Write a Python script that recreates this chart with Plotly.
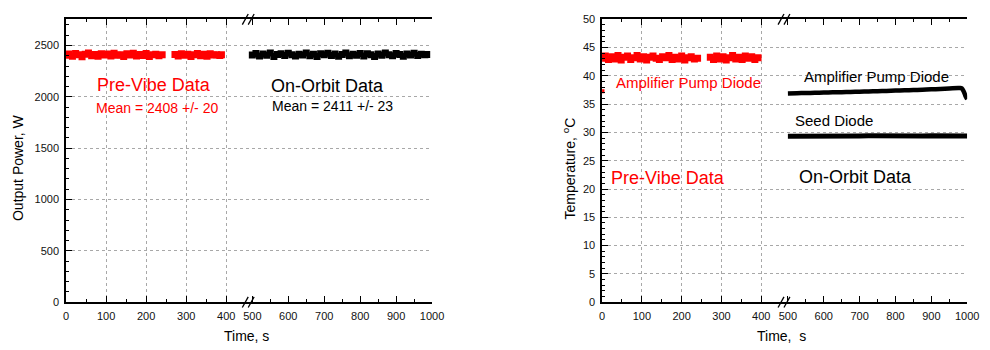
import plotly.graph_objects as go

# ---------------- data ----------------
# Left panel: output power, W
PV_T1 = [0, 8, 16, 24, 32, 40, 48, 56, 64, 72, 80, 88, 96, 104, 112, 120, 128, 136, 144, 152,
         160, 168, 176, 184, 192, 200, 208, 216, 224, 232, 240]
PV_P1 = [2405, 2418, 2396, 2422, 2410, 2391, 2415, 2426, 2400, 2412, 2395, 2420, 2408, 2417, 2399,
         2424, 2404, 2411, 2393, 2419, 2407, 2425, 2398, 2413, 2402, 2421, 2394, 2409, 2416, 2401, 2410]
PV_T2 = [272, 280, 288, 296, 304, 312, 320, 328, 336, 344, 352, 360, 368, 376, 384, 388]
PV_P2 = [2412, 2398, 2420, 2405, 2416, 2393, 2410, 2423, 2401, 2414, 2396, 2419, 2407, 2411, 2403, 2409]

OO_T = [500, 510, 520, 530, 540, 550, 560, 570, 580, 590, 600, 610, 620, 630, 640, 650, 660, 670,
        680, 690, 700, 710, 720, 730, 740, 750, 760, 770, 780, 790, 800, 810, 820, 830, 840, 850,
        860, 870, 880, 890, 900, 910, 920, 930, 940, 950, 960, 970, 980, 985]
OO_P = [2408, 2421, 2399, 2417, 2405, 2426, 2394, 2413, 2419, 2402,
        2424, 2410, 2397, 2416, 2407, 2428, 2400, 2414, 2392, 2420,
        2409, 2425, 2403, 2418, 2396, 2412, 2427, 2401, 2415, 2406,
        2422, 2398, 2419, 2411, 2393, 2417, 2404, 2426, 2409, 2400,
        2421, 2413, 2395, 2418, 2407, 2424, 2402, 2416, 2410, 2412]

# Right panel: temperature, degC
TP_T1 = PV_T1
TP_V1 = [43.1, 43.5, 42.9, 43.4, 43.0, 43.6, 42.8, 43.3, 43.5, 42.9,
         43.2, 43.6, 43.0, 43.4, 42.8, 43.3, 43.5, 43.1, 42.9, 43.4,
         43.2, 43.6, 42.9, 43.3, 43.0, 43.5, 42.8, 43.2, 43.4, 43.0, 43.1]
TP_T2 = [272, 280, 288, 296, 304, 312, 320, 328, 336, 344, 352, 360, 368, 376, 384, 392]
TP_V2 = [43.3, 42.9, 43.5, 43.0, 43.4, 42.8, 43.2, 43.6, 43.0, 43.3, 42.9, 43.5, 43.1, 43.4, 42.9, 43.2]
TP_START_T = [1]
TP_START_V = [37.3]

AMP_T = [500, 525, 550, 575, 600, 625, 650, 675, 700, 725, 750, 775, 800, 825, 850, 875, 900,
         925, 950, 975, 980, 985, 990, 995, 1000]
AMP_V = [36.90, 36.94, 36.97, 37.01, 37.05, 37.09, 37.13, 37.17, 37.21, 37.26, 37.30, 37.35, 37.40,
         37.45, 37.50, 37.55, 37.62, 37.70, 37.78, 37.86, 37.88, 37.80, 37.30, 36.50, 35.90]
SEED_T = [500, 525, 550, 575, 600, 625, 650, 675, 700, 725, 750, 775, 800, 825, 850, 875, 900,
          925, 950, 975, 1000]
SEED_V = [29.35, 29.38, 29.36, 29.40, 29.37, 29.39, 29.36, 29.41, 29.38, 29.40, 29.37, 29.39,
          29.42, 29.38, 29.40, 29.37, 29.41, 29.39, 29.38, 29.40, 29.39]

GRID_B = [600, 700, 800, 900]

# ---------------- layout helpers ----------------
W, H = 990, 350
FONT = "Liberation Sans, Arial, sans-serif"
RED = "#ff0000"


def fx(p):
    return p / W


def fy(p):
    return 1 - p / H


YDOM = [fy(306.7), fy(13.8)]
GRIDC = "#a8a8a8"

base_axis = dict(
    showline=True, linecolor="black", linewidth=1.5, ticks="inside", ticklen=6,
    tickwidth=1, tickcolor="black", zeroline=False,
    tickfont=dict(family=FONT, size=11, color="#111"),
    gridcolor=GRIDC, griddash="dot", gridwidth=1,
)


def xax(domain, rng, anchor, grid=True):
    d = dict(base_axis)
    d.update(domain=domain, range=rng, anchor=anchor, tick0=0, dtick=100,
             mirror="ticks", showgrid=grid, ticklabelstandoff=3,
             minor=dict(dtick=50, tick0=0, ticks="inside", ticklen=3, tickcolor="black",
                        showgrid=False))
    return d


def yax(rng, anchor, major, minor, side="left", overlay=None, labels=True, grid=True):
    d = dict(base_axis)
    d.update(range=rng, anchor=anchor, tick0=0, dtick=major, side=side,
             showgrid=grid, showticklabels=labels, ticklabelstandoff=3,
             minor=dict(dtick=minor, tick0=0, ticks="inside", ticklen=3, tickcolor="black",
                        showgrid=False))
    if overlay:
        d["overlaying"] = overlay
    else:
        d["domain"] = YDOM
    return d


def grid_overlay(over, rng, anchor):
    return dict(overlaying=over, range=rng, anchor=anchor, tickvals=GRID_B,
                showgrid=True, gridcolor=GRIDC, griddash="dot", gridwidth=1,
                ticks="", showticklabels=False, showline=False, zeroline=False)


fig = go.Figure()

def band(x, y, color, xa, ya):
    return go.Scatter(x=x, y=y, xaxis=xa, yaxis=ya, mode="lines+markers",
                      line=dict(color=color, width=3),
                      marker=dict(color=color, size=7, symbol="square"),
                      hoverinfo="skip")

# left panel
fig.add_trace(band(PV_T1, PV_P1, RED, "x", "y"))
fig.add_trace(band(PV_T2, PV_P2, RED, "x", "y"))
fig.add_trace(band(OO_T, OO_P, "black", "x2", "y"))

# right panel
fig.add_trace(band(TP_T1, TP_V1, RED, "x3", "y2"))
fig.add_trace(band(TP_T2, TP_V2, RED, "x3", "y2"))
fig.add_trace(go.Scatter(x=TP_START_T, y=TP_START_V, xaxis="x3", yaxis="y2", mode="markers",
                         marker=dict(color=RED, size=4, symbol="square"), hoverinfo="skip"))
fig.add_trace(go.Scatter(x=AMP_T, y=AMP_V, xaxis="x4", yaxis="y2", mode="lines",
                         line=dict(color="black", width=4.5, shape="spline"), hoverinfo="skip"))
fig.add_trace(go.Scatter(x=SEED_T, y=SEED_V, xaxis="x4", yaxis="y2", mode="lines",
                         line=dict(color="black", width=5), hoverinfo="skip"))

LA = [0, 449]
LB = [482, 1000]
RA = [0, 449]
RB = [480, 1000]
PY = [0, 2755]
TY = [0, 50]

fig.update_layout(
    width=W, height=H, margin=dict(l=0, r=0, t=0, b=0),
    paper_bgcolor="white", plot_bgcolor="white", showlegend=False,
    font=dict(family=FONT, color="black"),
    xaxis=xax([fx(64), fx(246.6)], LA, "y"),
    xaxis2=xax([fx(246.6), fx(435.7)], LB, "y", grid=False),
    xaxis5=grid_overlay("x2", LB, "y"),
    yaxis=yax(PY, "x", 500, 100),
    yaxis3=yax(PY, "x2", 500, 100, side="right", overlay="y", labels=False, grid=False),
    xaxis3=xax([fx(608.3), fx(789.7)], RA, "y2"),
    xaxis4=xax([fx(789.7), fx(979)], RB, "y2", grid=False),
    xaxis6=grid_overlay("x4", RB, "y2"),
    yaxis2=yax(TY, "x3", 5, 1),
    yaxis4=yax(TY, "x4", 5, 1, side="right", overlay="y2", labels=False, grid=False),
)

ann = []

def txt(text, x, y, xref, yref, size, color="black", angle=0):
    ann.append(dict(text=text, x=x, y=y, xref=xref, yref=yref, showarrow=False,
                    font=dict(family=FONT, size=size, color=color), textangle=angle,
                    xanchor="center", yanchor="middle"))

# left panel texts
txt("Pre-Vibe Data", 219, 2118, "x", "y", 18, RED)
txt("Mean = 2408 +/- 20", 226, 1891, "x", "y", 14, RED)
txt("On-Orbit Data", 710, 2109, "x2", "y", 18)
txt("Mean = 2411 +/- 23", 724, 1909, "x2", "y", 14)
# right panel texts
txt("Amplifier Pump Diode", 216.6, 38.8, "x3", "y2", 15, RED)
txt("Pre-Vibe Data", 165, 21.9, "x3", "y2", 18, RED)
txt("Amplifier Pump Diode", 746.5, 39.9, "x4", "y2", 15)
txt("Seed Diode", 629, 32.1, "x4", "y2", 15)
txt("On-Orbit Data", 689, 22.2, "x4", "y2", 18)
# axis titles
txt("Output Power, W", fx(16), fy(167), "paper", "paper", 14, angle=-90)
txt("Time, s", fx(247), fy(342), "paper", "paper", 14)
txt("Temperature, <sup>o</sup>C", fx(575), fy(168), "paper", "paper", 14, angle=-90)
txt("Time,\u00a0 s", fx(790), fy(342), "paper", "paper", 14)

fig.update_layout(annotations=ann)

# axis-break marks (//) on top and bottom axes
shapes = []
for cx in (246, 252, 790, 796):
    for cy in (306.7, 13.8):
        shapes.append(dict(type="line", xref="paper", yref="paper",
                           x0=fx(cx - 3), y0=fy(cy + 5.5), x1=fx(cx + 3), y1=fy(cy - 5.5),
                           line=dict(color="black", width=1.3)))
fig.update_layout(shapes=shapes)

fig.write_html(
    "out.html",
    config={"displayModeBar": False},
    post_script="document.body.style.margin='0';document.body.style.overflow='hidden';",
)
